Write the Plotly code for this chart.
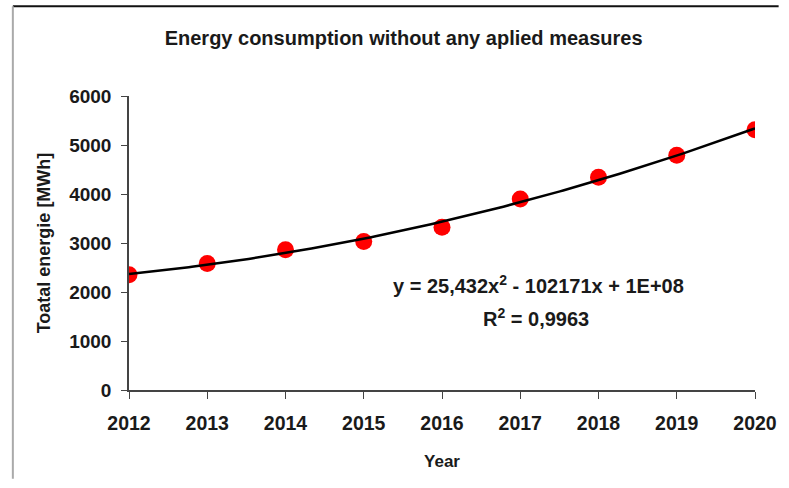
import numpy as np
import plotly.graph_objects as go

# Annual energy consumption, no measures applied
years = [2012, 2013, 2014, 2015, 2016, 2017, 2018, 2019, 2020]
energy_mwh = [2350, 2580, 2860, 3030, 3320, 3900, 4340, 4790, 5310]

y_ticks = [0, 1000, 2000, 3000, 4000, 5000, 6000]

# Quadratic trendline fitted to the yearly values
coef = np.polyfit(np.array(years) - 2012, energy_mwh, 2)
xs = np.linspace(years[0], years[-1], 200)
ys = np.polyval(coef, xs - 2012)

W, H = 789, 480
L, R, T, B = 129, 24, 96, H - 391
pw, ph = W - L - R, H - T - B

def px_x(x):
    return (x - L) / pw

def px_y(y):
    return (H - B - y) / ph

font = "Liberation Sans, Arial, sans-serif"
ink = "#1a1a1a"

fig = go.Figure()
fig.add_trace(go.Scatter(
    x=years, y=energy_mwh, mode="markers",
    marker=dict(color="#ff0000", size=17, line=dict(width=0)),
    showlegend=False, hoverinfo="x+y",
))
fig.add_trace(go.Scatter(
    x=xs, y=ys, mode="lines",
    line=dict(color="#000000", width=2.5),
    showlegend=False, hoverinfo="skip",
))

fig.update_layout(
    width=W, height=H,
    margin=dict(l=L, r=R, t=T, b=B),
    paper_bgcolor="white", plot_bgcolor="white",
    font=dict(family=font, color=ink),
    title=dict(
        text="<b>Energy consumption without any aplied measures</b>",
        font=dict(size=20, family=font, color=ink),
        x=px_x(408), xref="paper", xanchor="center",
        y=1 - 38 / H, yref="container", yanchor="middle",
    ),
    xaxis=dict(
        range=[2012, 2020], tickvals=years,
        ticktext=[f"<b>{y}</b>" for y in years],
        tickfont=dict(size=19.5, family=font, color=ink),
        ticks="outside", ticklen=7, tickcolor="#444", tickwidth=1,
        ticklabelstandoff=8,
        showline=True, linecolor="#444", linewidth=1.5,
        showgrid=False, zeroline=False,
        title=dict(text="<b>Year</b>", font=dict(size=17, family=font), standoff=22),
    ),
    yaxis=dict(
        range=[0, 6000], tickvals=y_ticks,
        ticktext=[f"<b>{v}</b>" for v in y_ticks],
        tickfont=dict(size=19, family=font, color=ink),
        ticks="outside", ticklen=6, tickcolor="#444", tickwidth=1,
        ticklabelstandoff=6,
        showline=True, linecolor="#444", linewidth=1.5,
        showgrid=False, zeroline=False,
        title=dict(text="<b>Toatal energie [MWh]</b>", font=dict(size=18, family=font), standoff=14),
    ),
    shapes=[
        dict(type="line", xref="paper", yref="paper",
             x0=px_x(11), x1=px_x(W), y0=px_y(6), y1=px_y(6),
             line=dict(color="#111", width=2)),
        dict(type="line", xref="paper", yref="paper",
             x0=px_x(11), x1=px_x(11), y0=px_y(6), y1=px_y(H),
             line=dict(color="#aaa", width=2)),
    ],
    annotations=[
        dict(text="<b>y = 25,432x<sup>2</sup> - 102171x + 1E+08</b>",
             xref="paper", yref="paper", x=px_x(545), y=px_y(285),
             xanchor="center", yanchor="middle",
             showarrow=False, font=dict(size=20, family=font, color=ink)),
        dict(text="<b>R<sup>2</sup> = 0,9963</b>",
             xref="paper", yref="paper", x=px_x(543), y=px_y(318),
             xanchor="center", yanchor="middle",
             showarrow=False, font=dict(size=20, family=font, color=ink)),
    ],
)

fig.write_html("out.html")
